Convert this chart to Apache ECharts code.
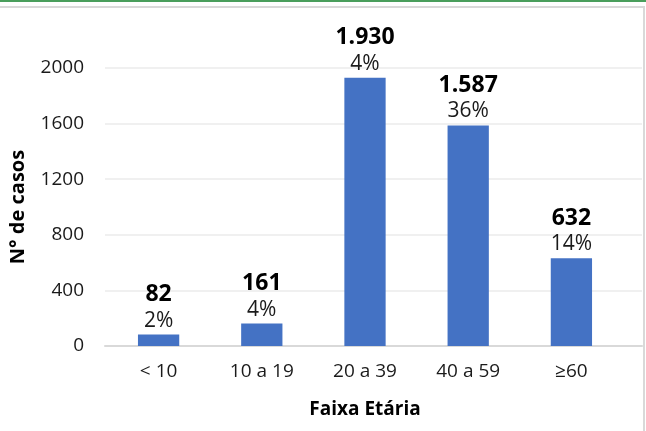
<!DOCTYPE html>
<html>
<head>
<meta charset="utf-8">
<script src="https://cdn.jsdelivr.net/npm/echarts@6/dist/echarts.min.js"></script>
<style>
  html, body { margin: 0; padding: 0; background: #fff; }
  #wrap { position: relative; width: 646px; height: 431px; overflow: hidden; }
  #topline { position: absolute; left: 0; top: 0; width: 646px; height: 2px; background: #4a9e5c; }
  #frame { position: absolute; left: 0; top: 6px; width: 643px; height: 430px; border: 1px solid #d9d9d9; border-width: 2px 2px 0 0; }
  #chart { position: absolute; left: 0; top: 0; width: 646px; height: 431px; }
</style>
</head>
<body>
<div id="wrap">
  <div id="topline"></div>
  <div id="frame"></div>
  <div id="chart"></div>
</div>
<script>
var categories = ['< 10', '10 a 19', '20 a 39', '40 a 59', '≥60'];
var casos = [82, 161, 1930, 1587, 632];
var percentuais = ['2%', '4%', '4%', '36%', '14%'];
var yTicks = { min: 0, max: 2000, interval: 400 };

var fonte = '"Open Sans", "Noto Sans", sans-serif';

function milhar(v) {
    return String(v).replace(/\B(?=(\d{3})+(?!\d))/g, '.');
}

var chart = echarts.init(document.getElementById('chart'));

var option = {
    animation: false,
    textStyle: { fontFamily: fonte },
    grid: [
        // grade de fundo, so para as linhas que passam do ultimo grupo
        { left: 105, right: 4, top: 68, bottom: 85 },
        { left: 106, right: 23, top: 68, bottom: 85 }
    ],
    xAxis: [
        {
            gridIndex: 0, type: 'category', data: categories,
            axisLine: { show: true, lineStyle: { color: '#d9d9d9', width: 2 } },
            axisTick: { show: false }, axisLabel: { show: false }
        },
        {
            gridIndex: 1, type: 'category', data: categories,
            axisLine: { show: false },
            axisTick: { show: false },
            axisLabel: { color: '#1a1a1a', fontSize: 19, margin: 16, fontFamily: fonte },
            name: 'Faixa Etária',
            nameLocation: 'middle',
            nameGap: 54,
            nameTextStyle: { color: '#000', fontSize: 19, fontWeight: 'bold', fontFamily: fonte }
        }
    ],
    yAxis: [
        {
            gridIndex: 0, type: 'value',
            min: yTicks.min, max: yTicks.max, interval: yTicks.interval,
            axisLabel: { show: false },
            axisLine: { show: false }, axisTick: { show: false },
            splitLine: { lineStyle: { color: '#ebebeb', width: 1.5 } }
        },
        {
            gridIndex: 1, type: 'value',
            min: yTicks.min, max: yTicks.max, interval: yTicks.interval,
            axisLabel: { color: '#1a1a1a', fontSize: 19, margin: 23, fontFamily: fonte,
                formatter: function (v) { return String(v); } },
            axisLine: { show: false }, axisTick: { show: false },
            splitLine: { show: false },
            name: 'N° de casos',
            nameLocation: 'middle',
            nameGap: 79,
            nameTextStyle: { color: '#000', fontSize: 20, fontWeight: 'bold', fontFamily: fonte }
        }
    ],
    series: [
        {
            type: 'bar',
            xAxisIndex: 1,
            yAxisIndex: 1,
            data: casos,
            barWidth: '40%',
            itemStyle: { color: '#4472c4' },
            label: {
                show: true,
                position: 'top',
                distance: 2,
                formatter: function (p) {
                    return '{v|' + milhar(p.value) + '}\n{p|' + percentuais[p.dataIndex] + '}';
                },
                rich: {
                    v: { fontSize: 23, fontWeight: 'bold', color: '#000', fontFamily: fonte, lineHeight: 28 },
                    p: { fontSize: 21, color: '#1a1a1a', fontFamily: fonte, lineHeight: 24 }
                }
            }
        }
    ]
};

chart.setOption(option);
</script>
</body>
</html>
